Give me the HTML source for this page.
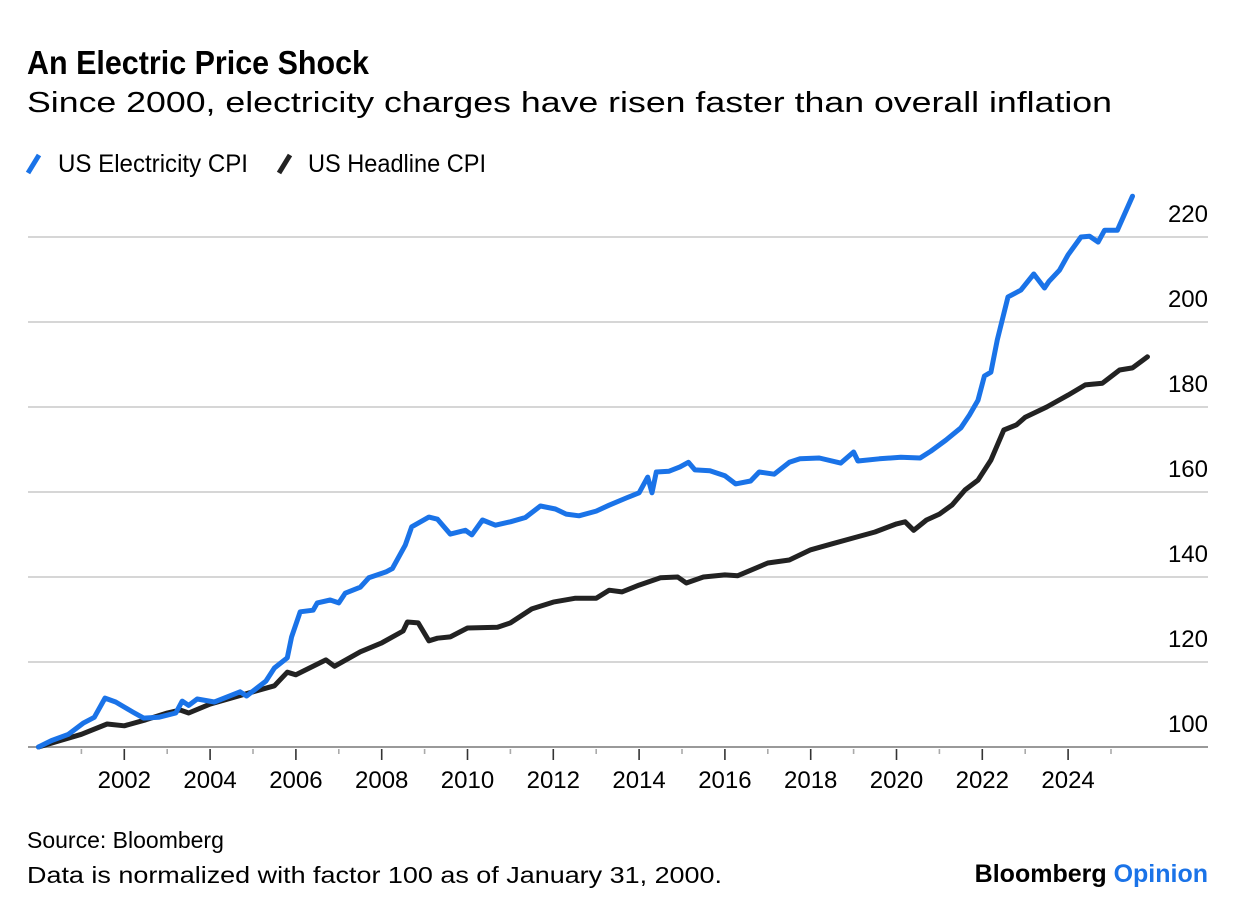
<!DOCTYPE html>
<html><head><meta charset="utf-8"><style>
html,body{margin:0;padding:0;background:#fff;}
svg{display:block;font-family:"Liberation Sans",Arial,sans-serif;}
</style></head><body>
<svg id="chart" width="1237" height="916" viewBox="0 0 1237 916">
<text x="27" y="74" font-size="33" font-weight="bold" fill="#000" textLength="342" lengthAdjust="spacingAndGlyphs">An Electric Price Shock</text>
<text x="27" y="112" font-size="29" fill="#000" textLength="1085" lengthAdjust="spacingAndGlyphs">Since 2000, electricity charges have risen faster than overall inflation</text>
<g>
<line x1="28" y1="173" x2="39" y2="155" stroke="#1a73e8" stroke-width="5"/>
<text x="58" y="172" font-size="25" fill="#000" textLength="190" lengthAdjust="spacingAndGlyphs">US Electricity CPI</text>
<line x1="279" y1="173" x2="290" y2="155" stroke="#222" stroke-width="5"/>
<text x="308" y="172" font-size="25" fill="#000" textLength="178" lengthAdjust="spacingAndGlyphs">US Headline CPI</text>
</g>
<g id="grid"></g>
<g id="xaxis"></g>
<g id="series"></g>
<text x="27" y="848" font-size="23" fill="#000">Source: Bloomberg</text>
<text x="27" y="883" font-size="23" fill="#000" textLength="695" lengthAdjust="spacingAndGlyphs">Data is normalized with factor 100 as of January 31, 2000.</text>
<text x="1208" y="882" font-size="25" font-weight="bold" text-anchor="end"><tspan fill="#000">Bloomberg </tspan><tspan fill="#1a73e8">Opinion</tspan></text>
</svg>
<script>
const yTicks=[100,120,140,160,180,200,220];
const xTickYears=[2001,2002,2003,2004,2005,2006,2007,2008,2009,2010,2011,2012,2013,2014,2015,2016,2017,2018,2019,2020,2021,2022,2023,2024,2025];
const elecDates=[2000.0,2000.3,2000.7,2001.04,2001.3,2001.55,2001.8,2002.2,2002.45,2002.8,2003.2,2003.35,2003.5,2003.7,2004.1,2004.7,2004.85,2005.3,2005.5,2005.8,2005.9,2006.1,2006.4,2006.5,2006.8,2007.0,2007.15,2007.5,2007.7,2008.1,2008.25,2008.55,2008.7,2009.1,2009.3,2009.6,2009.95,2010.1,2010.35,2010.65,2011.0,2011.35,2011.7,2012.05,2012.3,2012.6,2013.0,2013.3,2013.7,2014.0,2014.2,2014.3,2014.4,2014.7,2014.95,2015.15,2015.3,2015.65,2016.0,2016.25,2016.6,2016.8,2017.15,2017.5,2017.75,2018.2,2018.7,2019.0,2019.1,2019.6,2020.1,2020.55,2020.8,2021.15,2021.5,2021.7,2021.9,2022.05,2022.2,2022.35,2022.6,2022.9,2023.2,2023.45,2023.55,2023.8,2024.0,2024.3,2024.5,2024.7,2024.85,2025.15,2025.5];
const elecValues=[100,101.5,103,105.6,107,111.5,110.6,108.2,106.8,107,108,110.8,109.8,111.3,110.6,113,112,115.5,118.6,121,125.9,131.8,132.2,133.9,134.6,133.9,136.2,137.6,139.8,141.2,142,147.5,151.8,154.1,153.6,150.1,151,149.9,153.4,152.2,153,154,156.7,156,154.8,154.4,155.5,156.9,158.6,159.8,163.5,159.8,164.7,164.9,165.9,167,165.2,165,163.8,161.9,162.6,164.7,164.2,167,167.8,168,166.8,169.4,167.3,167.8,168.2,168,169.6,172.2,175.1,178.1,181.6,187.3,188.2,195.8,205.9,207.5,211.3,208,209.5,212.2,215.8,220,220.2,218.8,221.6,221.6,229.6];
const headDates=[2000.0,2000.5,2001.0,2001.6,2002.0,2002.5,2003.0,2003.3,2003.5,2004.0,2005.0,2005.5,2005.8,2006.0,2006.7,2006.9,2007.5,2008.0,2008.5,2008.6,2008.85,2009.1,2009.3,2009.6,2010.0,2010.7,2011.0,2011.5,2012.0,2012.5,2013.0,2013.3,2013.6,2014.0,2014.5,2014.9,2015.1,2015.5,2016.0,2016.3,2017.0,2017.5,2018.0,2018.5,2019.0,2019.5,2020.0,2020.2,2020.4,2020.7,2021.0,2021.3,2021.6,2021.9,2022.2,2022.5,2022.8,2023.0,2023.5,2024.0,2024.4,2024.8,2025.2,2025.5,2025.85];
const headValues=[100,101.5,103,105.4,105,106.4,108,108.7,108,110.1,113,114.4,117.6,117,120.5,119,122.4,124.5,127.3,129.4,129.2,125,125.6,125.9,128,128.2,129.2,132.5,134.1,135,135,136.9,136.5,138.1,139.8,140,138.6,140,140.5,140.3,143.3,144,146.4,147.8,149.2,150.6,152.5,153,151,153.4,154.8,157,160.5,162.8,167.5,174.6,175.8,177.6,180,182.8,185.2,185.6,188.7,189.2,191.8];

const NS='http://www.w3.org/2000/svg';
const x0=38.5, pxPerYear=42.9, yBase=747, pxPerUnit=4.25;
const xs=t=>x0+(t-2000)*pxPerYear;
const ys=v=>yBase-(v-100)*pxPerUnit;
function mk(tag,attrs,parent){const e=document.createElementNS(NS,tag);for(const k in attrs)e.setAttribute(k,attrs[k]);parent.appendChild(e);return e;}
const grid=document.getElementById('grid');
yTicks.forEach(v=>{
  const l=mk('line',{x1:28,x2:1208,y1:ys(v),y2:ys(v),stroke:v===100?'#999':'#c8c8c8','stroke-width':v===100?2:1.6},grid);
  
  
  const t=mk('text',{x:1208,y:ys(v)-15,'font-size':24,'text-anchor':'end',fill:'#000'},grid);
  t.textContent=v;
  
  
});
const xa=document.getElementById('xaxis');
xTickYears.forEach(yr=>{
  const major=yr%2===0;
  const l=mk('line',{x1:xs(yr),x2:xs(yr),y1:749,y2:major?760:754,stroke:major?'#333':'#aaa','stroke-width':1.6},xa);
  
  
  if(major){
    const t=mk('text',{x:xs(yr),y:788,'font-size':24,'text-anchor':'middle',fill:'#000'},xa);
    t.textContent=yr;
    
    
  }
});
const sg=document.getElementById('series');
function line(dates,vals,color,name){
  const d=dates.map((t,i)=>(i?'L':'M')+xs(t).toFixed(1)+' '+ys(vals[i]).toFixed(1)).join(' ');
  const p=mk('path',{d:d,fill:'none',stroke:color,'stroke-width':5,'stroke-linejoin':'round','stroke-linecap':'round'},sg);
  
  
}
line(headDates,headValues,'#222','headline-cpi-line');
line(elecDates,elecValues,'#1a73e8','electricity-cpi-line');
</script>
</body></html>
